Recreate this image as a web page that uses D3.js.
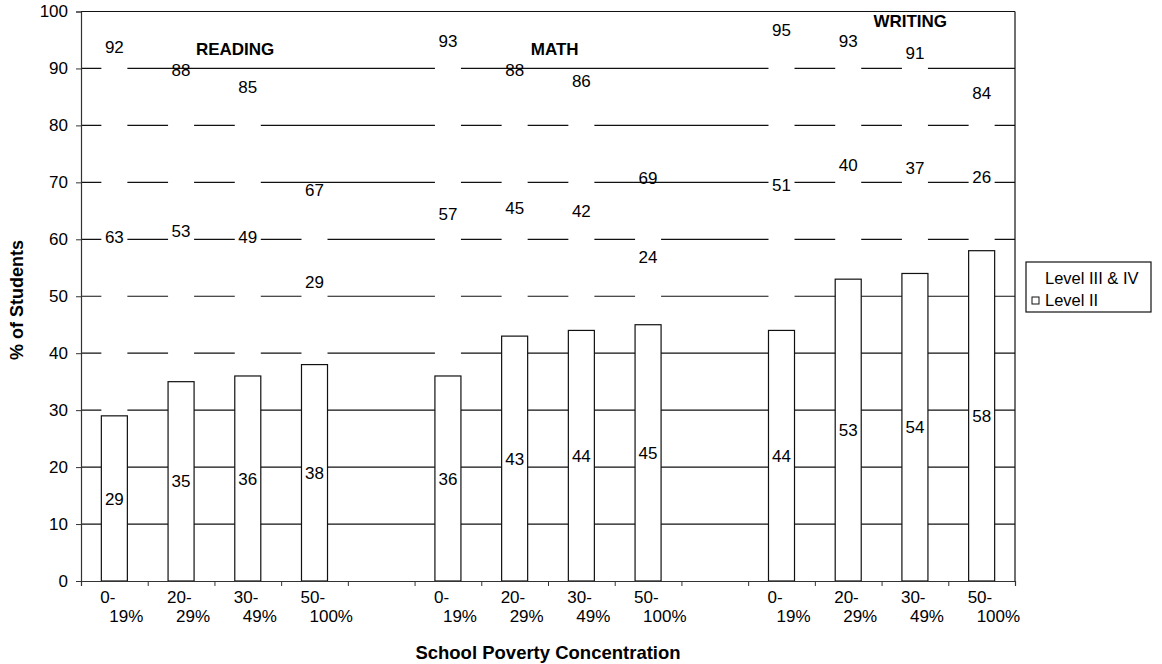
<!DOCTYPE html>
<html>
<head>
<meta charset="utf-8">
<script src="https://cdn.jsdelivr.net/npm/d3@7/dist/d3.min.js"></script>
<style>
  html, body { margin: 0; padding: 0; background: #fff; }
  svg { display: block; font-family: "Liberation Sans", Arial, sans-serif; }
</style>
</head>
<body>
<svg id="chart" width="1162" height="664"></svg>
<script>
// Subjects and poverty bands (each band label is split over two lines)
const subjects = ["READING", "MATH", "WRITING"];
const bandLine1 = ["0-", "20-", "30-", "50-"];
const bandLine2 = ["19%", "29%", "49%", "100%"];

// Percent of students, in subject order, then band order
const levelII     = [29, 35, 36, 38,  36, 43, 44, 45,  44, 53, 54, 58];
const levelIIIIV  = [63, 53, 49, 29,  57, 45, 42, 24,  51, 40, 37, 26];

const yTicks = [0, 10, 20, 30, 40, 50, 60, 70, 80, 90, 100];
const seriesNames = ["Level III & IV", "Level II"];

const svg = d3.select("#chart");
const plot = { left: 81, right: 1015, top: 11.5, bottom: 581 };

// One slot per band, plus an empty slot between subjects
const slotsPerGroup = bandLine1.length + 1;
const nSlots = subjects.length * slotsPerGroup - 1;
const x = d3.scaleBand().domain(d3.range(nSlots)).range([plot.left, plot.right]).paddingInner(0).paddingOuter(0);
const y = d3.scaleLinear().domain([0, 100]).range([plot.bottom, plot.top]);
const barW = x.bandwidth() * 0.39;

const rows = [];
subjects.forEach((s, g) => {
  bandLine1.forEach((b, i) => {
    const k = g * bandLine1.length + i;
    rows.push({ slot: g * slotsPerGroup + i, l2: levelII[k], l34: levelIIIIV[k], band: i });
  });
});

// Gridlines and plot frame
const grid = svg.append("g");
grid.selectAll("line.grid").data(yTicks.filter(d => d > 0)).join("line")
  .attr("x1", plot.left).attr("x2", plot.right)
  .attr("y1", d => y(d)).attr("y2", d => y(d))
  .attr("stroke", "#111").attr("stroke-width", 1.2);
grid.append("line").attr("x1", plot.right).attr("x2", plot.right)
  .attr("y1", y(100)).attr("y2", y(0)).attr("stroke", "#111").attr("stroke-width", 1.2);

// Stacked bars
const bars = svg.append("g");
rows.forEach(r => {
  const cx = x(r.slot) + x.bandwidth() / 2;
  // Level III & IV segment (white, no outline)
  bars.append("rect")
    .attr("x", cx - barW / 2).attr("width", barW)
    .attr("y", y(r.l2 + r.l34)).attr("height", y(r.l2) - y(r.l2 + r.l34))
    .attr("fill", "#fff");
  // Level II segment (white, dark outline)
  bars.append("rect")
    .attr("x", cx - barW / 2).attr("width", barW)
    .attr("y", y(r.l2)).attr("height", y(0) - y(r.l2))
    .attr("fill", "#fff").attr("stroke", "#111").attr("stroke-width", 1.2);
});

// Axes
const yAxis = d3.axisLeft(y).tickValues(yTicks).tickSize(5).tickPadding(8);
const gy = svg.append("g").attr("transform", `translate(${plot.left},0)`).call(yAxis);
gy.select(".domain").attr("stroke", "#333").attr("stroke-width", 1.2);
gy.selectAll(".tick line").attr("stroke", "#333");
gy.selectAll(".tick text").attr("font-size", 17).attr("fill", "#000")
  .attr("font-family", "Liberation Sans, Arial, sans-serif");

const xAxis = d3.axisBottom(d3.scaleLinear().domain([0, nSlots]).range([plot.left, plot.right]))
  .tickValues(d3.range(nSlots + 1)).tickSize(5).tickFormat("");
const gx = svg.append("g").attr("transform", `translate(0,${plot.bottom})`).call(xAxis);
gx.select(".domain").attr("stroke", "#333").attr("stroke-width", 1.2);
gx.selectAll(".tick line").attr("stroke", "#333");

// Two-line category labels
const catLabels = svg.append("g").attr("font-size", 17).attr("fill", "#000");
rows.forEach(r => {
  const cx = x(r.slot) + x.bandwidth() / 2;
  catLabels.append("text").attr("x", cx - 14).attr("y", 603).text(bandLine1[r.band]);
  catLabels.append("text").attr("x", cx - 5).attr("y", 622).text(bandLine2[r.band]);
});

// Value labels: Level II mid-segment, Level III & IV mid-segment, total above bar
const vals = svg.append("g").attr("font-size", 17).attr("fill", "#000").attr("text-anchor", "middle");
rows.forEach(r => {
  const cx = x(r.slot) + x.bandwidth() / 2;
  const tot = r.l2 + r.l34;
  vals.append("text").attr("x", cx).attr("y", y(r.l2 / 2)).attr("dy", "0.36em").text(r.l2);
  vals.append("text").attr("x", cx).attr("y", y(r.l2 + r.l34 / 2)).attr("dy", "0.36em").text(r.l34);
  vals.append("text").attr("x", cx).attr("y", y(tot) - 10).attr("dy", "0.36em").text(tot);
});

// Subject headings inside the plot
const headingPos = [[2.31, 92.4], [7.1, 92.4], [12.43, 97.3]];
const slotX = d3.scaleLinear().domain([0, nSlots]).range([plot.left, plot.right]);
svg.append("g").attr("font-size", 17).attr("font-weight", "bold").attr("text-anchor", "middle")
  .selectAll("text").data(subjects).join("text")
  .attr("x", (d, i) => slotX(headingPos[i][0]))
  .attr("y", (d, i) => y(headingPos[i][1]))
  .text(d => d);

// Axis titles
svg.append("text").attr("transform", "translate(23,300) rotate(-90)")
  .attr("text-anchor", "middle").attr("font-size", 18).attr("font-weight", "bold")
  .text("% of Students");
svg.append("text").attr("x", (plot.left + plot.right) / 2).attr("y", 659)
  .attr("text-anchor", "middle").attr("font-size", 18.5).attr("font-weight", "bold")
  .text("School Poverty Concentration");

// Legend
const lg = svg.append("g").attr("transform", "translate(1026,262)");
lg.append("rect").attr("width", 125).attr("height", 50).attr("fill", "#fff").attr("stroke", "#111").attr("stroke-width", 1.2);
seriesNames.forEach((name, i) => {
  const row = lg.append("g").attr("transform", `translate(0,${i * 22})`);
  row.append("rect").attr("x", 6).attr("y", 13).attr("width", 7).attr("height", 7)
    .attr("fill", "#fff").attr("stroke", i === 1 ? "#111" : "none");
  row.append("text").attr("x", 19).attr("y", 22).attr("font-size", 16.5).text(name);
});
</script>
</body>
</html>
